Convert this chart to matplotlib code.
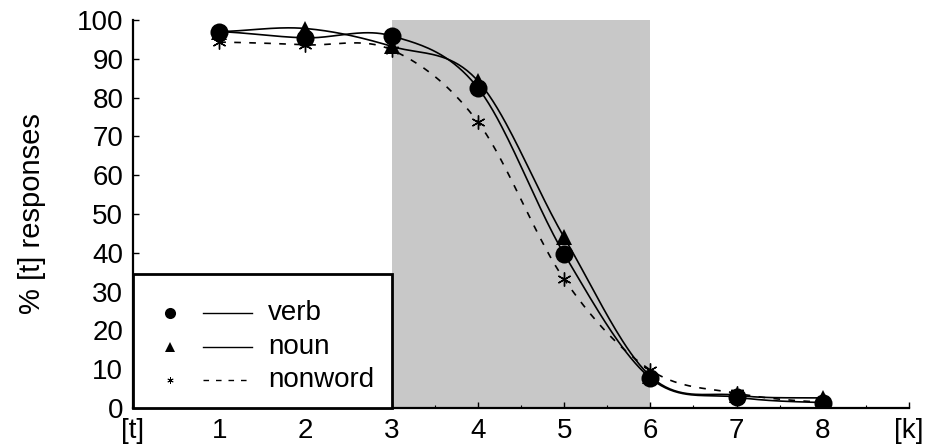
import numpy as np
import matplotlib
matplotlib.use("Agg")
import matplotlib.pyplot as plt
from matplotlib.patches import Rectangle

plt.rcParams['font.family'] = ['Liberation Sans', 'DejaVu Sans']

# ---- data ----
steps = [1, 2, 3, 4, 5, 6, 7, 8]
verb = [97.0, 95.4, 95.9, 82.5, 39.7, 7.7, 2.8, 1.4]
noun = [97.0, 97.8, 93.2, 84.3, 44.0, 8.2, 3.3, 2.6]
nonword = [94.3, 93.6, 92.3, 73.7, 33.2, 9.8, 3.8, 1.5]
series_names = ["verb", "noun", "nonword"]
xtick_labels = ["[t]", "1", "2", "3", "4", "5", "6", "7", "8", "[k]"]
ambiguous_range = (3, 6)


def smooth(xs, ys, n=40, tension=1.0):
    xs = np.asarray(xs, float)
    ys = np.asarray(ys, float)
    m = np.zeros_like(ys)
    m[1:-1] = (ys[2:] - ys[:-2]) / (xs[2:] - xs[:-2]) * tension
    m[0] = (ys[1] - ys[0]) / (xs[1] - xs[0]) * 0.5
    m[-1] = (ys[-1] - ys[-2]) / (xs[-1] - xs[-2]) * 0.5
    ox, oy = [], []
    for i in range(len(xs) - 1):
        h = xs[i + 1] - xs[i]
        t = np.linspace(0, 1, n, endpoint=False)
        h00 = 2 * t**3 - 3 * t**2 + 1
        h10 = t**3 - 2 * t**2 + t
        h01 = -2 * t**3 + 3 * t**2
        h11 = t**3 - t**2
        ox.extend(xs[i] + t * h)
        oy.extend(h00 * ys[i] + h10 * h * m[i] + h01 * ys[i + 1] + h11 * h * m[i + 1])
    ox.append(xs[-1])
    oy.append(ys[-1])
    return np.array(ox), np.array(oy)


fig = plt.figure(figsize=(9.25, 4.48), dpi=100)
ax = fig.add_axes([0.1438, 0.0893, 0.8389, 0.8661])

ax.axvspan(*ambiguous_range, color="#c8c8c8", zorder=0, lw=0)

styles = [
    dict(marker="o", ms=13, ls="-", mew=0),
    dict(marker="^", ms=12, ls="-", mew=0),
    dict(marker=(6, 2, 0), ms=10, ls=(0, (4, 5)), mew=1.0),
]
for vals, st in zip([verb, noun, nonword], styles):
    cx, cy = smooth(steps, vals)
    ax.plot(cx, cy, color="black", lw=1.2, ls=st["ls"], zorder=2)
    ax.plot(steps, vals, ls="none", marker=st["marker"], ms=st["ms"],
            color="black", mew=st["mew"], zorder=3)

ax.set_xlim(0, 9)
ax.set_ylim(0, 100)
ax.set_xticks(range(10))
ax.set_xticklabels(xtick_labels)
ax.set_xticks(np.arange(0.5, 9, 1.0), minor=True)
ax.set_yticks(range(0, 101, 10))
ax.tick_params(axis="both", which="major", direction="in", length=4, width=1,
               labelsize=20, pad=7)
ax.tick_params(axis="x", which="minor", direction="in", length=2, width=0.8)
for s in ["top", "right"]:
    ax.spines[s].set_visible(False)
for s in ["left", "bottom"]:
    ax.spines[s].set_linewidth(1.6)
ax.set_ylabel("% [t] responses", fontsize=21, labelpad=22)

# ---- legend box ----
lx1 = 3 / 9.0
ly1 = (408 - 274) / 388.0
ax.add_patch(Rectangle((0, 0), lx1, ly1, transform=ax.transAxes, fc="white",
                       ec="black", lw=2, zorder=5, clip_on=False))
rows_y = [0.245, 0.157, 0.072]
leg_markers = [("o", 8, 0), ("^", 6.5, 0), ((6, 2, 0), 4.5, 0.6)]
leg_ls = ["-", "-", (0, (4, 5))]
for name, yy, (mk, ms, mew), ls in zip(series_names, rows_y, leg_markers, leg_ls):
    ax.plot([0.0477], [yy], marker=mk, ms=ms, mew=mew, color="black",
            transform=ax.transAxes, zorder=6, clip_on=False)
    ax.plot([0.090, 0.153], [yy, yy], color="black", lw=1.0, ls=ls,
            transform=ax.transAxes, zorder=6, clip_on=False)
    ax.text(0.174, yy, name, transform=ax.transAxes, fontsize=20,
            va="center", ha="left", zorder=6)

fig.savefig("out.png", dpi=100)
